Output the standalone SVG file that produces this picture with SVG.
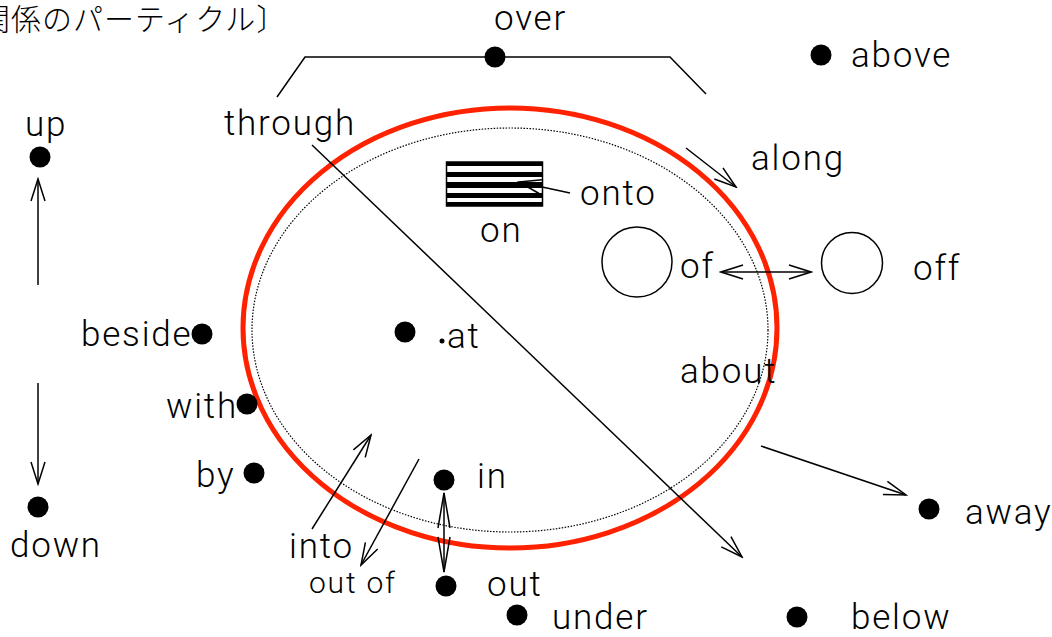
<svg xmlns="http://www.w3.org/2000/svg" width="1052" height="637" viewBox="0 0 1052 637">
<style>
text{font-family:Roboto,"Liberation Sans","Noto Sans CJK JP",sans-serif;font-weight:300;font-size:35px;fill:#000;letter-spacing:1.8px}
.jp{font-family:"Noto Sans CJK JP",sans-serif;font-size:30px;font-weight:300;letter-spacing:1px}
.sm{font-size:30px}
.dot{fill:#000}
.ln{fill:none;stroke:#000;stroke-width:1.5}
</style>
<defs>
<marker id="ah" viewBox="-24 -9 26 18" refX="0" refY="0" markerWidth="26" markerHeight="18" markerUnits="userSpaceOnUse" orient="auto-start-reverse">
<path d="M-22,-7 L0,0 L-22,7" fill="none" stroke="#000" stroke-width="1.5"/>
</marker>
<marker id="ahl" viewBox="-38 -8 40 16" refX="0" refY="0" markerWidth="40" markerHeight="16" markerUnits="userSpaceOnUse" orient="auto-start-reverse">
<path d="M-35,-6 L0,0 L-35,6" fill="none" stroke="#000" stroke-width="1.5"/>
</marker>
</defs>
<rect width="1052" height="637" fill="#fff"/>
<text class="jp" x="-20" y="30">関係のパーティクル〕</text>

<g id="sphere">
<ellipse cx="510" cy="330" rx="258" ry="202" fill="none" stroke="#000" stroke-width="1.2" stroke-dasharray="1.5,1.5"/>
<ellipse cx="510" cy="328" rx="267" ry="220" fill="none" stroke="#ff2200" stroke-width="5"/>
</g>

<g id="over">
<path class="ln" d="M277,97 L305,57 L670,57 L706,94"/>
<circle class="dot" cx="495" cy="57" r="10.5"/>
<text x="494" y="30">over</text>
</g>
<g id="above"><circle class="dot" cx="821" cy="55" r="10.5"/><text x="851" y="67">above</text></g>
<g id="up"><text x="25" y="136">up</text><circle class="dot" cx="40" cy="157" r="10.5"/></g>
<g id="down"><circle class="dot" cx="38" cy="507" r="10.5"/><text x="10" y="557">down</text></g>
<g id="through"><text x="224" y="135">through</text></g>
<g id="along"><text x="751" y="170">along</text></g>
<g id="onto">
<rect x="446.5" y="162" width="96" height="44" fill="#fff" stroke="#000" stroke-width="1.5"/>
<rect x="446" y="162" width="97" height="4" fill="#000"/>
<rect x="446" y="172" width="97" height="5" fill="#000"/>
<rect x="446" y="182" width="97" height="6" fill="#000"/>
<rect x="446" y="193" width="97" height="5" fill="#000"/>
<rect x="446" y="202" width="97" height="4" fill="#000"/>
<text x="580" y="205">onto</text>
</g>
<g id="on"><text x="480" y="242">on</text></g>
<g id="of"><circle cx="637" cy="262" r="35" fill="none" stroke="#000" stroke-width="1.5"/><text x="680" y="278">of</text></g>
<g id="off"><circle cx="852" cy="263" r="30.5" fill="none" stroke="#000" stroke-width="1.5"/><text x="913" y="280">off</text></g>
<g id="beside"><text x="81" y="346">beside</text><circle class="dot" cx="202" cy="334" r="10.5"/></g>
<g id="at"><circle class="dot" cx="405" cy="332" r="10.5"/><circle class="dot" cx="442" cy="341" r="2.5"/><text x="447" y="348">at</text></g>
<g id="about"><text x="680" y="383">about</text></g>
<g id="with"><text x="166" y="418">with</text><circle class="dot" cx="247" cy="404" r="10.5"/></g>
<g id="by"><text x="196" y="487">by</text><circle class="dot" cx="254" cy="473" r="10.5"/></g>
<g id="into"><text x="289" y="558">into</text></g>
<g id="outof"><text class="sm" x="309" y="593">out of</text></g>
<g id="in"><circle class="dot" cx="444" cy="480" r="10.5"/><text x="477" y="488">in</text></g>
<g id="out"><circle class="dot" cx="446" cy="586" r="10.5"/><text x="487" y="596">out</text></g>
<g id="under"><circle class="dot" cx="517" cy="615" r="10.5"/><text x="552" y="629">under</text></g>
<g id="below"><circle class="dot" cx="797" cy="617" r="10.5"/><text x="851" y="629">below</text></g>
<g id="away"><circle class="dot" cx="929" cy="509" r="10.5"/><text x="965" y="524">away</text></g>

<g id="connectors">
<line class="ln" x1="38" y1="285" x2="38" y2="179" marker-end="url(#ah)"/>
<line class="ln" x1="38" y1="383" x2="38" y2="484" marker-end="url(#ah)"/>
<line class="ln" x1="312" y1="145" x2="742" y2="557" marker-end="url(#ah)"/>
<line class="ln" x1="686" y1="148" x2="736" y2="187" marker-end="url(#ah)"/>
<line class="ln" x1="570" y1="193" x2="519" y2="182" marker-end="url(#ah)"/>
<line class="ln" x1="721" y1="272" x2="811" y2="272" marker-start="url(#ah)" marker-end="url(#ah)"/>
<line class="ln" x1="312" y1="529" x2="371" y2="435" marker-end="url(#ah)"/>
<line class="ln" x1="419" y1="459" x2="361" y2="565" marker-end="url(#ah)"/>
<line class="ln" x1="444" y1="493" x2="444" y2="572" marker-start="url(#ahl)" marker-end="url(#ahl)"/>
<line class="ln" x1="761" y1="446" x2="906" y2="495" marker-end="url(#ah)"/>
</g>
</svg>
